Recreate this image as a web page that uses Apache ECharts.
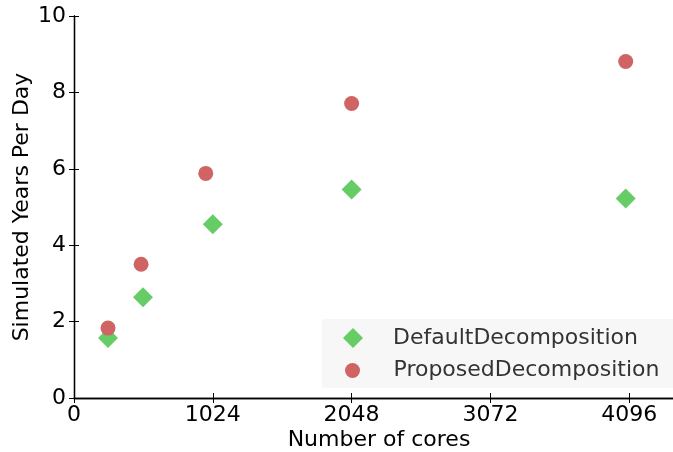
<!DOCTYPE html>
<html>
<head>
<meta charset="utf-8">
<script src="https://cdn.jsdelivr.net/npm/echarts@6/dist/echarts.min.js"></script>
<style>
  html, body { margin: 0; padding: 0; background: #fff; }
  #chart { width: 673px; height: 452px; }
</style>
</head>
<body>
<div id="chart"></div>
<script>
// values
const defaultCores = [251, 509, 1024, 2048, 4070];
const defaultYears = [1.57, 2.64, 4.55, 5.46, 5.22];
const proposedCores = [251, 495, 972, 2048, 4070];
const proposedYears = [1.83, 3.50, 5.88, 7.71, 8.81];
const seriesNames = ['DefaultDecomposition', 'ProposedDecomposition'];

const font = 'DejaVu Sans';
const myChart = echarts.init(document.getElementById('chart'));

const pairs = (xs, ys) => xs.map((x, i) => [x, ys[i]]);

const baseAxis = {
    type: 'value',
    axisLine: { show: true, lineStyle: { color: '#000', width: 1.3 } },
    axisTick: { show: true, inside: true, length: 5, lineStyle: { color: '#000', width: 1 } },
    splitLine: { show: false }
};

let option = {
    animation: false,
    textStyle: { fontFamily: font },
    grid: { left: 74, top: 16, right: -11, bottom: 54, outerBoundsMode: 'none', containLabel: false },
    xAxis: [
        Object.assign({}, baseAxis, {
            position: 'bottom',
            min: 0, max: 4500, interval: 1024,
            name: 'Number of cores',
            nameLocation: 'middle',
            nameGap: 31,
            nameMoveOverlap: false,
            nameTextStyle: { fontSize: 22, color: '#000', fontFamily: font },
            axisLabel: {
                fontSize: 22, color: '#000', margin: 6, showMaxLabel: false, fontFamily: font,
                formatter: (v) => String(v)
            }
        }),
        Object.assign({}, baseAxis, {
            position: 'top',
            min: 0, max: 4500, interval: 1024,
            axisLabel: { show: false }
        })
    ],
    yAxis: [
        Object.assign({}, baseAxis, {
            position: 'left',
            min: 0, max: 10, interval: 2,
            name: 'Simulated Years Per Day',
            nameLocation: 'middle',
            nameGap: 41,
            nameMoveOverlap: false,
            nameTextStyle: { fontSize: 22, color: '#000', fontFamily: font },
            axisLabel: { fontSize: 22, color: '#000', margin: 8, fontFamily: font }
        }),
        Object.assign({}, baseAxis, {
            position: 'right',
            min: 0, max: 10, interval: 2,
            axisLabel: { show: false }
        })
    ],
    legend: [
        {
            data: [{ name: seriesNames[0], icon: 'diamond' }],
            left: 343, top: 327, padding: 0,
            itemWidth: 20, itemHeight: 20,
            textStyle: { fontSize: 22, color: '#333', fontFamily: font, padding: [0, 0, 0, 25] }
        },
        {
            data: [{ name: seriesNames[1], icon: 'circle' }],
            left: 345, top: 359.5, padding: 0,
            itemWidth: 20, itemHeight: 15,
            textStyle: { fontSize: 22, color: '#333', fontFamily: font, padding: [0, 0, 0, 26] }
        }
    ],
    graphic: [
        {
            type: 'rect',
            left: 322, top: 319, z: 3,
            shape: { width: 360, height: 69 },
            style: { fill: '#f7f7f7' }
        }
    ],
    series: [
        {
            name: seriesNames[0],
            type: 'scatter',
            symbol: 'diamond',
            symbolSize: 20,
            itemStyle: { color: '#66cc66', opacity: 1 },
            data: pairs(defaultCores, defaultYears)
        },
        {
            name: seriesNames[1],
            type: 'scatter',
            symbol: 'circle',
            symbolSize: 15,
            itemStyle: { color: '#d06464', opacity: 1 },
            data: pairs(proposedCores, proposedYears)
        }
    ]
};

if (myChart) {
    myChart.setOption(option);
}
</script>
</body>
</html>
